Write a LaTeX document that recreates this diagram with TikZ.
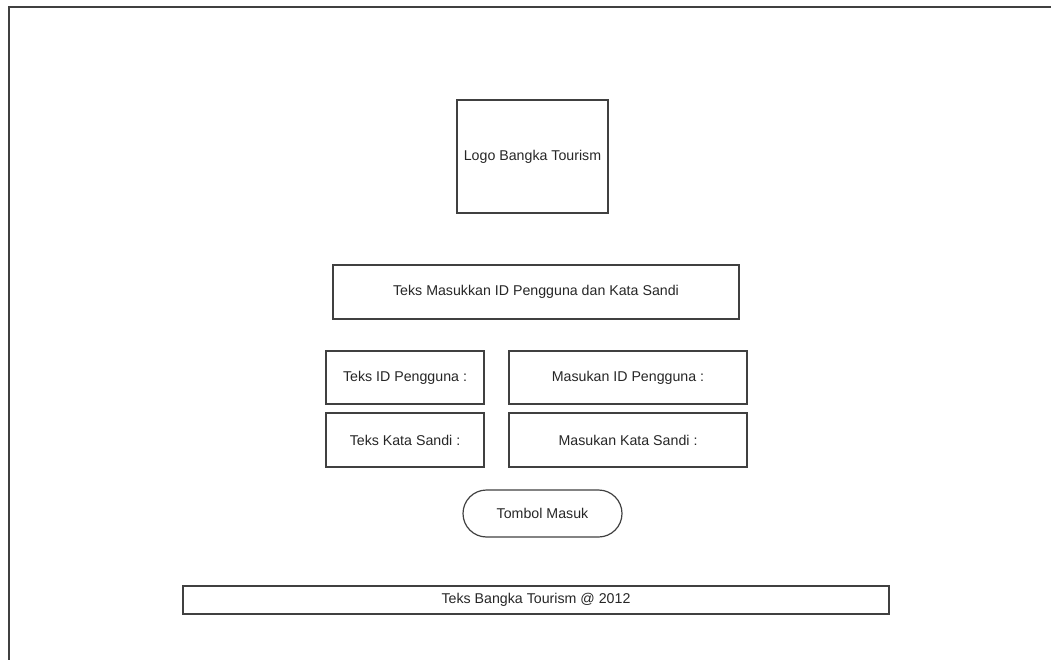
\documentclass[tikz,border=0pt]{standalone}
\usepackage{fontspec}
\setmainfont{Liberation Sans}
\begin{document}
\begin{tikzpicture}[x=1pt,y=-1pt]
    \tikzstyle{every node}+=[inner sep=0pt, font=\fontsize{14.2}{16}\selectfont, text=black!85]
    \tikzstyle{box}=[draw=black!75, line width=1.2pt, rectangle]
    \useasboundingbox (0,0) rectangle (1051,660);
    \draw [black!75, line width=1.2pt] (9,660) -- (9,7) -- (1051,7);
    \node [box, minimum width=151, minimum height=113] (logo) at (532.5,156.5) {Logo Bangka Tourism};
    \node [box, minimum width=406, minimum height=54] (judul) at (536,292) {Teks Masukkan ID Pengguna dan Kata Sandi};
    \node [box, minimum width=158, minimum height=53] (teksid) at (405,377.5) {Teks ID Pengguna :};
    \node [box, minimum width=238, minimum height=53] (masukid) at (628,377.5) {Masukan ID Pengguna :};
    \node [box, minimum width=158, minimum height=54] (tekssandi) at (405,440) {Teks Kata Sandi :};
    \node [box, minimum width=238, minimum height=54] (masuksandi) at (628,440) {Masukan Kata Sandi :};
    \node [box, rounded corners=23.5pt, minimum width=159, minimum height=47] (tombol) at (542.5,513.5) {Tombol Masuk};
    \node [box, minimum width=706, minimum height=28] (footer) at (536,600) {Teks Bangka Tourism @ 2012};
\end{tikzpicture}
\end{document}
